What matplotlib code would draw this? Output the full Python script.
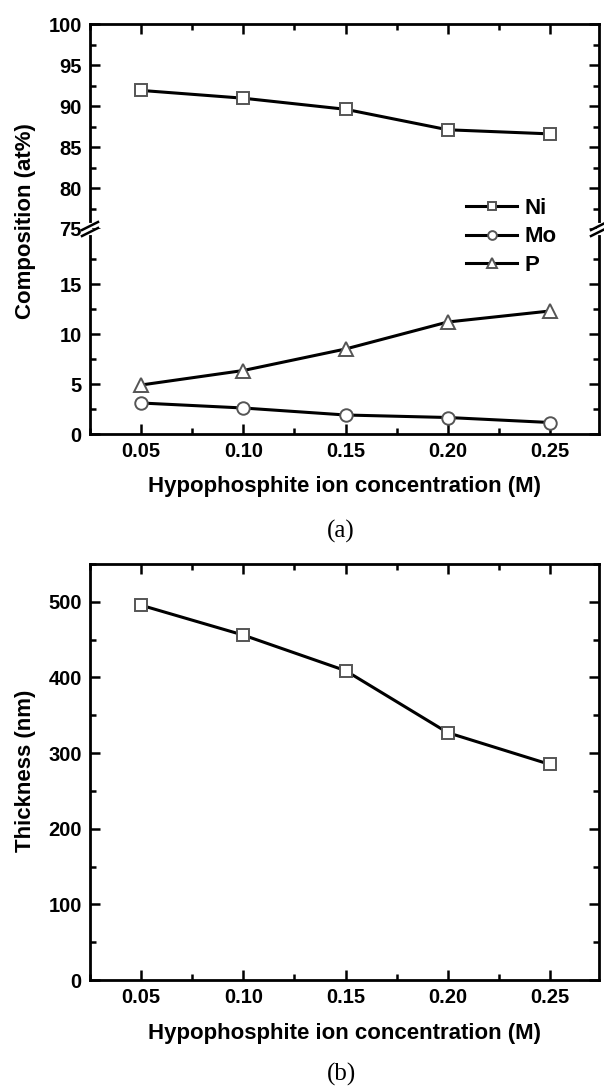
import matplotlib.pyplot as plt
from matplotlib.ticker import MultipleLocator

# ==========================
# DATA
# ==========================
conc = [0.05, 0.10, 0.15, 0.20, 0.25]
ni = [91.9, 90.95, 89.6, 87.1, 86.6]
mo = [3.1, 2.6, 1.9, 1.65, 1.15]
p = [4.9, 6.35, 8.5, 11.2, 12.3]
thickness = [495.5, 456, 409, 327, 285]

x_ticks = [0.05, 0.10, 0.15, 0.20, 0.25]
x_ticklabels = ["0.05", "0.10", "0.15", "0.20", "0.25"]

plt.rcParams['font.family'] = ['Liberation Sans', 'DejaVu Sans']
plt.rcParams['font.weight'] = 'bold'

W, H = 604, 1086
fig = plt.figure(figsize=(W / 100, H / 100), dpi=100)


def fx(px):
    return px / W


def fy(py):
    return 1 - py / H


LEFT, RIGHT = 90, 599
ax_up = fig.add_axes([fx(LEFT), fy(229), fx(RIGHT - LEFT), (229 - 24) / H])
ax_lo = fig.add_axes([fx(LEFT), fy(434), fx(RIGHT - LEFT), (434 - 229) / H])
ax_b = fig.add_axes([fx(LEFT), fy(980), fx(RIGHT - LEFT), (980 - 564) / H])

line_kw = dict(color='black', lw=2.2, markerfacecolor='white',
               markeredgecolor='#555555', markeredgewidth=1.4, clip_on=False, zorder=3)

for ax in (ax_up, ax_lo):
    ax.plot(conc, ni, marker='s', ms=8.5, label='Ni', **line_kw)
    ax.plot(conc, mo, marker='o', ms=9, label='Mo', **line_kw)
    ax.plot(conc, p, marker='^', ms=10, label='P', **line_kw)

ax_b.plot(conc, thickness, marker='s', ms=8.5, **line_kw)

ax_up.set_ylim(75, 100)
ax_lo.set_ylim(0, 20.5)
ax_b.set_ylim(0, 550)

TICK_FS = 14.5
for ax in (ax_up, ax_lo, ax_b):
    ax.set_xlim(0.025, 0.274)
    ax.set_xticks(x_ticks)
    ax.set_xticklabels(x_ticklabels)
    ax.xaxis.set_minor_locator(MultipleLocator(0.025))
    for s in ax.spines.values():
        s.set_linewidth(2.0)
    ax.tick_params(which='both', direction='in', top=True, right=True,
                   labelsize=TICK_FS, width=1.8, pad=6)
    ax.tick_params(which='major', length=7)
    ax.tick_params(which='minor', length=4)

ax_up.set_yticks([75, 80, 85, 90, 95, 100])
ax_up.yaxis.set_minor_locator(MultipleLocator(2.5))
ax_up.spines['bottom'].set_visible(False)
ax_up.tick_params(which='both', bottom=False, labelbottom=False)

ax_lo.set_yticks([0, 5, 10, 15])
ax_lo.set_yticks([2.5, 7.5, 12.5, 17.5], minor=True)
ax_lo.spines['top'].set_visible(False)
ax_lo.tick_params(which='both', top=False)

ax_b.set_yticks([0, 100, 200, 300, 400, 500])
ax_b.yaxis.set_minor_locator(MultipleLocator(50))

for ax in (ax_up, ax_lo, ax_b):
    for lab in ax.get_xticklabels() + ax.get_yticklabels():
        lab.set_fontweight('bold')

# break marks on the left and right spines
for xb in (LEFT, RIGHT):
    fig.add_artist(plt.Line2D([fx(xb), fx(xb)], [fy(225), fy(233)], color='white', lw=3))
    for dy in (-3, 3):
        fig.add_artist(plt.Line2D([fx(xb - 8), fx(xb + 8)], [fy(229 + dy + 4), fy(229 + dy - 4)],
                                  color='black', lw=1.8))

# legend
leg = ax_lo.legend(loc='center left', bbox_to_anchor=(fx(466), fy(237)),
                   bbox_transform=fig.transFigure, frameon=False, borderpad=0,
                   borderaxespad=0, handlelength=2.3, handletextpad=0.35,
                   labelspacing=0.35, markerscale=0.7,
                   prop={'size': 16, 'weight': 'bold'})

label_kw = dict(fontsize=16, fontweight='bold')
fig.text(fx(25), fy(221), 'Composition (at%)', rotation=90, ha='center', va='center', **label_kw)
fig.text(fx(25), fy(771), 'Thickness (nm)', rotation=90, ha='center', va='center', **label_kw)
fig.text(fx(345), fy(486), 'Hypophosphite ion concentration (M)', ha='center', va='center', **label_kw)
fig.text(fx(345), fy(1033), 'Hypophosphite ion concentration (M)', ha='center', va='center', **label_kw)

fig.text(fx(341), fy(531), '(a)', ha='center', va='center', fontsize=18,
         family='Liberation Serif', fontweight='normal')
fig.text(fx(341), fy(1074), '(b)', ha='center', va='center', fontsize=18,
         family='Liberation Serif', fontweight='normal')

fig.savefig('out.png', dpi=100)
